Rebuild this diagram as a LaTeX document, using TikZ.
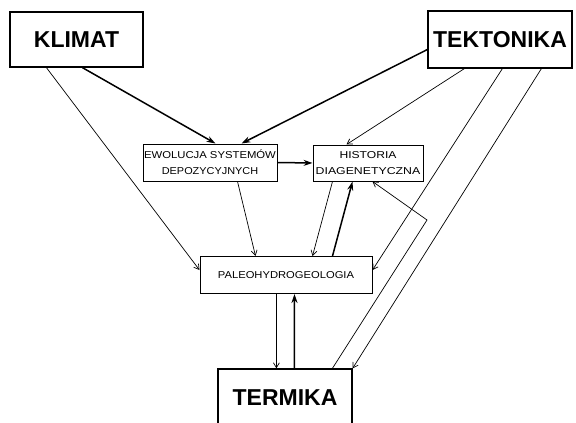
\documentclass[tikz,border=0pt]{standalone}
\usepackage{fontspec}
\setmainfont{Liberation Sans}
\usetikzlibrary{arrows.meta}
\newcommand\widetxt[2]{\scalebox{#1}[1]{#2}}
\begin{document}
\begin{tikzpicture}[x=1pt,y=-1pt,
  bigbox/.style={draw,line width=1.2pt,inner sep=0pt,font=\fontsize{23}{25}\selectfont\bfseries},
  smallbox/.style={draw,line width=1pt,inner sep=0pt,align=center,font=\fontsize{10}{16}\selectfont},
  thinarr/.style={line width=0.7pt,-{Straight Barb[length=5pt,width=6pt]}},
  thickarr/.style={line width=1.5pt,-{Stealth[length=9pt,width=6pt]}}]
\useasboundingbox (0,0) rectangle (576,423);
\clip (0,0) rectangle (576,423);
\fill[white] (0,0) rectangle (576,423);
\node[bigbox,minimum width=133pt,minimum height=55pt] (klimat) at (76.5,39.5) {KLIMAT};
\node[bigbox,minimum width=144pt,minimum height=57pt] (tekt) at (500,39.5) {TEKTONIKA};
\node[smallbox,minimum width=134pt,minimum height=37pt] (ewol) at (210,162.5)
  {\widetxt{1.13}{EWOLUCJA SYSTEMÓW}\\\widetxt{1.09}{DEPOZYCYJNYCH}};
\node[smallbox,minimum width=110pt,minimum height=36pt] (hist) at (368,163)
  {\widetxt{1.21}{HISTORIA}\\\widetxt{1.23}{DIAGENETYCZNA}};
\node[smallbox,minimum width=172pt,minimum height=37pt] (paleo) at (286,275)
  {\widetxt{1.12}{PALEOHYDROGEOLOGIA}};
\node[bigbox,minimum width=134pt,minimum height=58pt] (termika) at (285,398) {TERMIKA};
\coordinate (turn) at (427,220);
% connectors
\draw[thinarr] ([xshift=37pt]klimat.south west) -- ([yshift=5pt]paleo.west);
\draw[thickarr] ([xshift=73pt]klimat.south west) -- ([xshift=73pt]ewol.north west);
\draw[thickarr] ([yshift=-10pt]tekt.west) -- ([xshift=99pt]ewol.north west);
\draw[thinarr] ([xshift=37pt]tekt.south west) -- ([xshift=34pt]hist.north west);
\draw[thinarr] ([xshift=75pt]tekt.south west) -- ([yshift=5pt]paleo.east);
\draw[thinarr] ([xshift=114pt]tekt.south west) -- (termika.north east);
\draw[thinarr] ([xshift=115pt]termika.north west) -- (turn) -- ([xshift=-51pt]hist.south east);
\draw[thickarr] (ewol.east) -- (hist.west);
\draw[thinarr] ([xshift=95pt]ewol.south west) -- ([xshift=56pt]paleo.north west);
\draw[thinarr] ([xshift=20pt]hist.south west) -- ([xshift=113pt]paleo.north west);
\draw[thickarr] ([xshift=133pt]paleo.north west) -- ([xshift=40pt]hist.south west);
\draw[thinarr] ([xshift=77pt]paleo.south west) -- ([xshift=59pt]termika.north west);
\draw[thickarr] ([xshift=77pt]termika.north west) -- ([xshift=95pt]paleo.south west);
\end{tikzpicture}
\end{document}
